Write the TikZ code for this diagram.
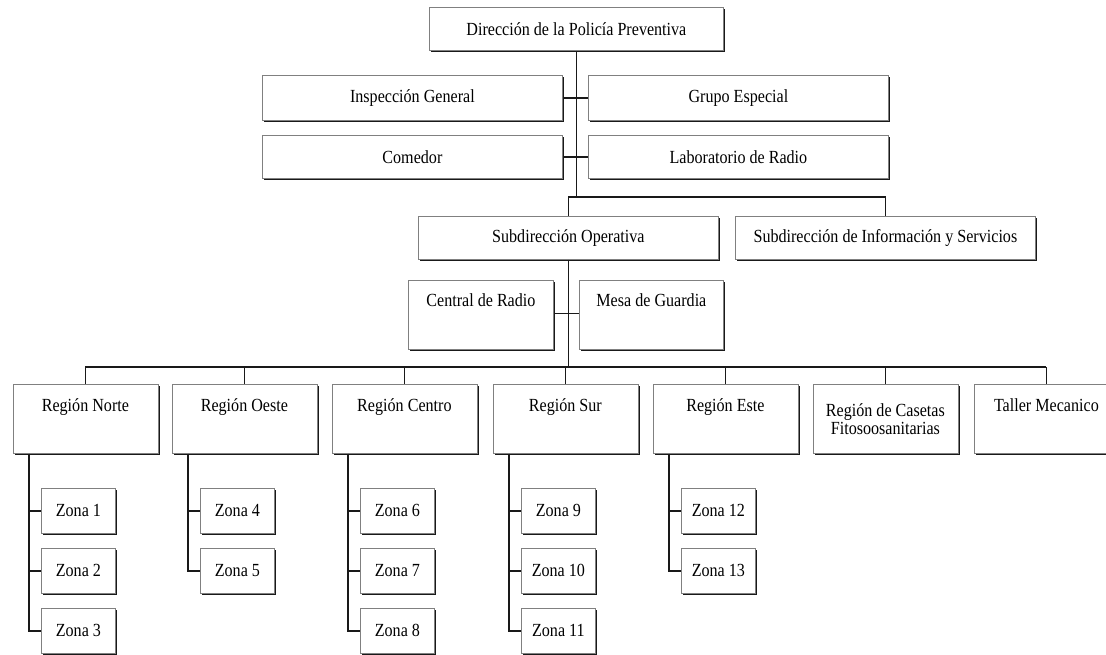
\documentclass[tikz,border=0pt]{standalone}
\usepackage{fontspec}
\setmainfont{Liberation Serif}[FakeStretch=0.87]
\usetikzlibrary{shadows,calc}
\begin{document}
\begin{tikzpicture}[x=1pt,y=1pt,
  box/.style={draw=black!50, line width=0.8pt, fill=white, inner sep=0pt, anchor=north west,
    font=\fontsize{18.5}{19}\selectfont,
    drop shadow={shadow xshift=1.8pt, shadow yshift=-1.8pt, fill=black!90, opacity=1}},
  wide/.style={box, minimum width=300, minimum height=44},
  regbox/.style={box, minimum width=145, minimum height=69},
  zbox/.style={box, minimum width=74, minimum height=45},
  txt/.style={inner sep=0pt, anchor=north, align=center, font=\fontsize{18.5}{18}\selectfont},
  conn/.style={line width=1.8pt, draw=black!90}
]
\useasboundingbox (0,0) rectangle (1106,-654);

% top level
\node[box, minimum width=294, minimum height=43] (dir) at (429,-7) {Dirección de la Policía Preventiva};
\node[wide, minimum height=45] (ig) at (262,-75) {Inspección General};
\node[wide, minimum height=45] (ge) at (588,-75) {Grupo Especial};
\node[wide, minimum height=43] (co) at (262,-135) {Comedor};
\node[wide, minimum height=43] (lr) at (588,-135) {Laboratorio de Radio};
\node[wide, minimum height=43] (so) at (418,-216) {Subdirección Operativa};
\node[wide, minimum height=43] (si) at (735,-216) {Subdirección de Información y Servicios};

\coordinate (j1) at (0,-197);
\coordinate (bar) at (0,-367);

\draw[conn] (dir.south) -- (dir.south |- j1);
\draw[conn] (ig.east) -- (ge.west);
\draw[conn] (co.east) -- (lr.west);
\draw[conn] (so.north) -- (so.north |- j1) -- (si.north |- j1) -- (si.north);

% central / mesa
\node[box, minimum width=145, minimum height=69] (cr) at (408,-280) {};
\node[box, minimum width=144, minimum height=69] (mg) at (579,-280) {};
\node[txt] (crt) at ([yshift=-13]cr.north) {Central de Radio};
\node[txt] (mgt) at ([yshift=-13]mg.north) {Mesa de Guardia};
\draw[conn] ($(cr.east)+(0,1.5)$) -- ($(mg.west)+(0,1.5)$);
\draw[conn] (so.south) -- (so.south |- bar);

% regions
\node[regbox] (rn) at (12.5,-384) {};
\node[regbox] (ro) at (171.5,-384) {};
\node[regbox] (rc) at (331.5,-384) {};
\node[regbox] (rs) at (492.5,-384) {};
\node[regbox] (re) at (652.5,-384) {};
\node[regbox] (rf) at (812.5,-384) {};
\node[regbox] (rt) at (973.5,-384) {};
\node[txt] (rnt) at ([yshift=-14]rn.north) {Región Norte};
\node[txt] (rot) at ([yshift=-14]ro.north) {Región Oeste};
\node[txt] (rct) at ([yshift=-14]rc.north) {Región Centro};
\node[txt] (rst) at ([yshift=-14]rs.north) {Región Sur};
\node[txt] (ret) at ([yshift=-14]re.north) {Región Este};
\node[txt] (rft) at ([yshift=-19]rf.north) {Región de Casetas\\Fitosoosanitarias};
\node[txt] (rtt) at ([yshift=-14]rt.north) {Taller Mecanico};

\draw[conn] (rn.north |- bar) -- (rt.north |- bar);
\foreach \r in {rn,ro,rc,rs,re,rf,rt} {
  \draw[conn] (\r.north |- bar) -- (\r.north);
}

% zonas
\node[zbox] (z1) at (41,-488) {Zona 1};
\node[zbox] (z2) at (41,-548) {Zona 2};
\node[zbox] (z3) at (41,-608) {Zona 3};
\node[zbox] (z4) at (200,-488) {Zona 4};
\node[zbox] (z5) at (200,-548) {Zona 5};
\node[zbox] (z6) at (360,-488) {Zona 6};
\node[zbox] (z7) at (360,-548) {Zona 7};
\node[zbox] (z8) at (360,-608) {Zona 8};
\node[zbox] (z9) at (521,-488) {Zona 9};
\node[zbox] (z10) at (521,-548) {Zona 10};
\node[zbox] (z11) at (521,-608) {Zona 11};
\node[zbox] (z12) at (681,-488) {Zona 12};
\node[zbox] (z13) at (681,-548) {Zona 13};

\foreach \r/\zs in {rn/{z1,z2,z3}, ro/{z4,z5}, rc/{z6,z7,z8}, rs/{z9,z10,z11}, re/{z12,z13}} {
  \foreach \z in \zs {
    \draw[conn] ($(\r.south west)+(16.5,0)$) |- (\z.west);
  }
}
\end{tikzpicture}
\end{document}
